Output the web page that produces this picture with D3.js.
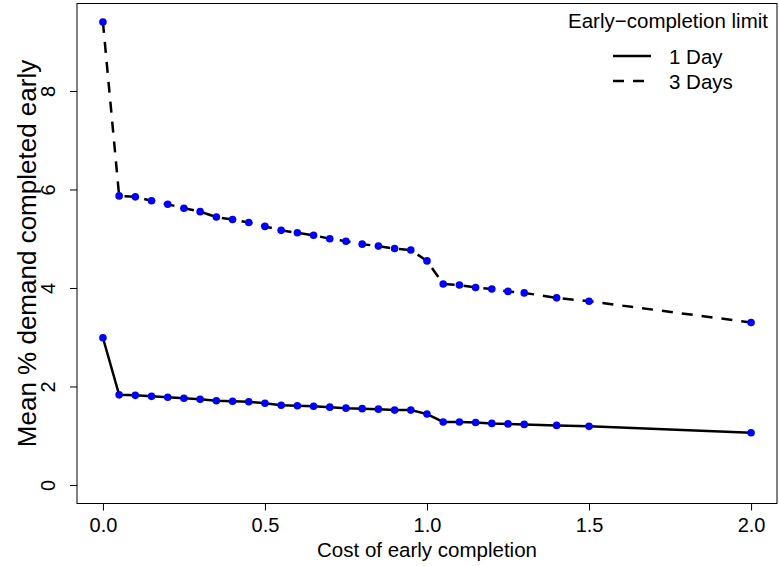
<!DOCTYPE html>
<html>
<head>
<meta charset="utf-8">
<style>
  body { margin: 0; background: #fff; }
  text { font-family: "Liberation Sans", Arial, sans-serif; fill: #000; }
</style>
</head>
<body>
<svg id="chart" width="779" height="566"></svg>

<script src="https://d3js.org/d3.v7.min.js"></script>
<script>
  // Cost of early completion (x) and mean % demand completed early (y)
  const costs = [0, 0.05, 0.1, 0.15, 0.2, 0.25, 0.3, 0.35, 0.4, 0.45, 0.5, 0.55, 0.6, 0.65,
    0.7, 0.75, 0.8, 0.85, 0.9, 0.95, 1.0, 1.05, 1.1, 1.15, 1.2, 1.25, 1.3, 1.4, 1.5, 2.0]

  const oneDay = [2.99, 1.83, 1.82, 1.80, 1.78, 1.76, 1.74, 1.71, 1.70, 1.69, 1.66, 1.62, 1.61, 1.60,
    1.58, 1.56, 1.55, 1.54, 1.52, 1.52, 1.44, 1.28, 1.28, 1.27, 1.25, 1.24, 1.23, 1.21, 1.19, 1.06]

  const threeDays = [9.40, 5.87, 5.85, 5.77, 5.70, 5.62, 5.55, 5.44, 5.39, 5.33, 5.25, 5.17, 5.12, 5.07,
    5.00, 4.95, 4.89, 4.85, 4.80, 4.77, 4.55, 4.08, 4.06, 4.01, 3.98, 3.93, 3.90, 3.80, 3.73, 3.30]

  const xTicks = [0, 0.5, 1, 1.5, 2]
  const yTicks = [0, 2, 4, 6, 8]
  const seriesNames = ['1 Day', '3 Days']

  const svg = d3.select('#chart')
  const mLeft = 77, mRight = 777, mTop = 3.5, mBottom = 503.5

  // R-style 4% padding around the data range
  const pad = (lo, hi) => [lo - (hi - lo) * 0.04, hi + (hi - lo) * 0.04]
  const xScale = d3.scaleLinear()
    .domain(pad(0, d3.max(costs)))
    .range([mLeft, mRight])
  const yScale = d3.scaleLinear()
    .domain(pad(0, d3.max(threeDays)))
    .range([mBottom, mTop])

  // axes
  const xAxis = d3.axisBottom(xScale)
    .tickValues(xTicks)
    .tickFormat(d3.format('.1f'))
    .tickSizeOuter(0)
    .tickSize(7)
    .tickPadding(7)
  const gx = svg.append('g')
    .attr('transform', `translate(0,${mBottom})`)
    .call(xAxis)
  gx.select('.domain').remove()
  gx.selectAll('text')
    .style('font-size', '20px')
    .style('font-family', '"Liberation Sans", Arial, sans-serif')

  const yAxis = d3.axisLeft(yScale)
    .tickValues(yTicks)
    .tickFormat(d3.format('d'))
    .tickSizeOuter(0)
    .tickSize(7)
  const gy = svg.append('g')
    .attr('transform', `translate(${mLeft},0)`)
    .call(yAxis)
  gy.select('.domain').remove()
  gy.selectAll('.tick text')
    .attr('x', 0).attr('dy', 0)
    .attr('transform', 'translate(-29,0) rotate(-90)')
    .attr('text-anchor', 'middle')
    .attr('dominant-baseline', 'central')
    .style('font-size', '20px')
    .style('font-family', '"Liberation Sans", Arial, sans-serif')

  // plot box
  svg.append('rect')
    .attr('x', mLeft).attr('y', mTop)
    .attr('width', mRight - mLeft).attr('height', mBottom - mTop)
    .attr('fill', 'none')
    .attr('stroke', '#000')
    .attr('stroke-width', 1)

  // axis titles
  svg.append('text')
    .attr('x', (mLeft + mRight) / 2)
    .attr('y', 557)
    .attr('text-anchor', 'middle')
    .style('font-size', '20.5px')
    .text('Cost of early completion')

  svg.append('text')
    .attr('transform', `translate(36,${(mTop + mBottom) / 2}) rotate(-90)`)
    .attr('text-anchor', 'middle')
    .style('font-size', '26px')
    .text('Mean % demand completed early')

  // lines
  const line = d3.line()
    .x(d => xScale(d[0]))
    .y(d => yScale(d[1]))

  const series = [
    { name: seriesNames[0], values: oneDay, dash: null },
    { name: seriesNames[1], values: threeDays, dash: '11,9' }
  ]

  series.forEach(s => {
    const pts = costs.map((c, i) => [c, s.values[i]])
    svg.append('path')
      .datum(pts)
      .attr('d', line)
      .attr('fill', 'none')
      .attr('stroke', '#000')
      .attr('stroke-width', 2.5)
      .attr('stroke-dasharray', s.dash)

    svg.append('g')
      .selectAll('circle')
      .data(pts)
      .enter()
      .append('circle')
      .attr('cx', d => xScale(d[0]))
      .attr('cy', d => yScale(d[1]))
      .attr('r', 3.8)
      .attr('fill', '#0000ff')
  })

  // legend
  const legend = svg.append('g')
  legend.append('text')
    .attr('x', 768).attr('y', 28)
    .attr('text-anchor', 'end')
    .style('font-size', '20.5px')
    .text('Early\u2212completion limit')

  series.forEach((s, i) => {
    const y = 56 + i * 25
    legend.append('line')
      .attr('x1', 613).attr('x2', 651)
      .attr('y1', y).attr('y2', y)
      .attr('stroke', '#000')
      .attr('stroke-width', 2.5)
      .attr('stroke-dasharray', s.dash)
    legend.append('text')
      .attr('x', 669).attr('y', y)
      .attr('dominant-baseline', 'central')
      .style('font-size', '20.5px')
      .text(s.name)
  })
</script>
</body>
</html>
